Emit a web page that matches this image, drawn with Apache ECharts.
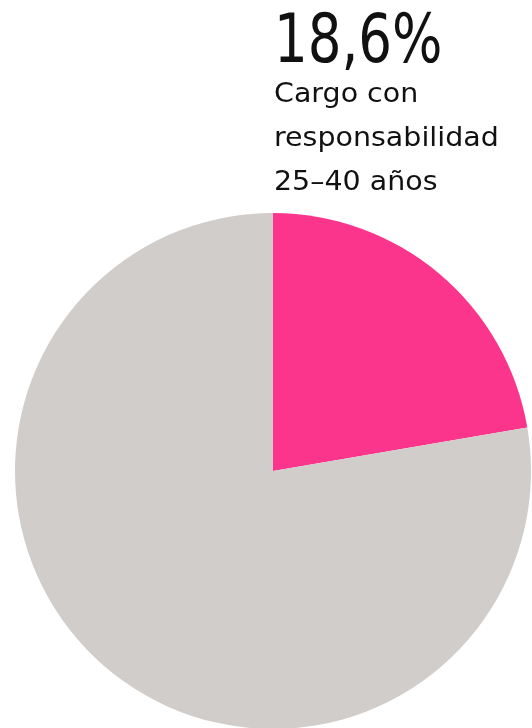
<!DOCTYPE html>
<html><head><meta charset="utf-8">
<script src="https://cdn.jsdelivr.net/npm/echarts@6/dist/echarts.min.js"></script>
<style>html,body{margin:0;padding:0;background:#fff}#c{width:532px;height:728px}</style>
</head><body><div id="c"></div>
<script>
// Slice shares as drawn in the picture (highlighted slice, rest)
const categories = ['Cargo con responsabilidad 25-40 años', 'Resto'];
const values = [22.3, 77.7];
const colors = ['#FB348C', '#D1CDCA'];
const bigLabel = '18,6%';
const labelLines = ['Cargo con', 'responsabilidad', '25–40 años'];

const chart = echarts.init(document.getElementById('c'), null, {renderer: 'canvas'});
chart.setOption({
  animation: false,
  backgroundColor: '#ffffff',
  series: [{
    type: 'pie',
    center: [273, 471],
    radius: [0, 258],
    startAngle: 90,
    clockwise: true,
    silent: true,
    label: {show: false},
    labelLine: {show: false},
    itemStyle: {borderWidth: 0},
    data: categories.map((n, i) => ({name: n, value: values[i], itemStyle: {color: colors[i]}}))
  }],
  graphic: [
    {type: 'text', x: 274, y: 11, scaleX: 0.88, style: {text: bigLabel, font: '67px "DejaVu Sans Condensed", sans-serif', lineHeight: 67, fill: '#111'}},
    {type: 'text', x: 274, y: 73, scaleX: 1.055, style: {text: labelLines.join('\n'), font: '27px "DejaVu Sans", sans-serif', lineHeight: 44, fill: '#111'}}
  ]
});
</script></body></html>
